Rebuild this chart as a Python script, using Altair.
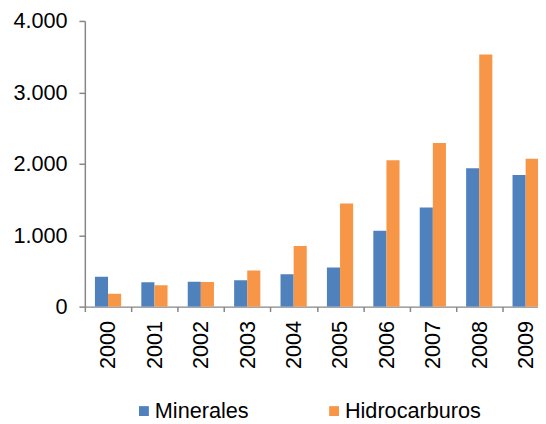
import altair as alt
import pandas as pd

years = ["2000", "2001", "2002", "2003", "2004", "2005", "2006", "2007", "2008", "2009"]
series = ["Minerales", "Hidrocarburos"]
minerales = [420, 340, 350, 370, 455, 547, 1062, 1389, 1936, 1844]
hidrocarburos = [180, 300, 345, 505, 850, 1444, 2051, 2290, 3531, 2069]
colors = ["#4F81BD", "#F79646"]
y_ticks = [0, 1000, 2000, 3000, 4000]

rows = []
for i, y in enumerate(years):
    rows.append({"year": y, "serie": series[0], "value": minerales[i]})
    rows.append({"year": y, "serie": series[1], "value": hidrocarburos[i]})
df = pd.DataFrame(rows)

FONT = "Liberation Sans"
AXIS_COLOR = "#868686"

chart = alt.Chart(df).mark_bar(clip=True).encode(
    x=alt.X("year:N",
            scale=alt.Scale(domain=years, range=[0, 471], paddingInner=0, paddingOuter=0),
            axis=alt.Axis(title=None, labelAngle=-90, tickBand="extent",
                          labelFontSize=22, labelFont=FONT, labelColor="black",
                          domainColor=AXIS_COLOR, tickColor=AXIS_COLOR,
                          tickSize=5, labelPadding=9, domainWidth=1.5, tickWidth=1.5)),
    xOffset=alt.XOffset("serie:N",
                        scale=alt.Scale(domain=series, paddingInner=0, paddingOuter=0.77)),
    y=alt.Y("value:Q",
            scale=alt.Scale(domain=[0, 4000], nice=False),
            axis=alt.Axis(title=None, values=y_ticks, grid=False,
                          labelExpr="replace(format(datum.value, ','), ',', '.')",
                          labelFontSize=22, labelFont=FONT, labelColor="black",
                          domainColor=AXIS_COLOR, tickColor=AXIS_COLOR,
                          tickSize=6, labelPadding=12, domainWidth=1.5, tickWidth=1.5)),
    color=alt.Color("serie:N",
                    scale=alt.Scale(domain=series, range=colors),
                    legend=alt.Legend(title=None, orient="none", legendX=49, legendY=385,
                                      direction="horizontal", symbolType="square",
                                      symbolSize=100, symbolStrokeWidth=0,
                                      labelFontSize=22, labelFont=FONT, labelColor="black",
                                      labelOffset=0, columnPadding=75, padding=0)),
).properties(
    width=460,
    height=290,
    autosize=alt.AutoSizeParams(type="none"),
    padding={"left": 78, "top": 10, "right": 0, "bottom": 116},
).configure_view(stroke=None)

chart.save("out.html", embed_options={"renderer": "svg", "actions": False})
